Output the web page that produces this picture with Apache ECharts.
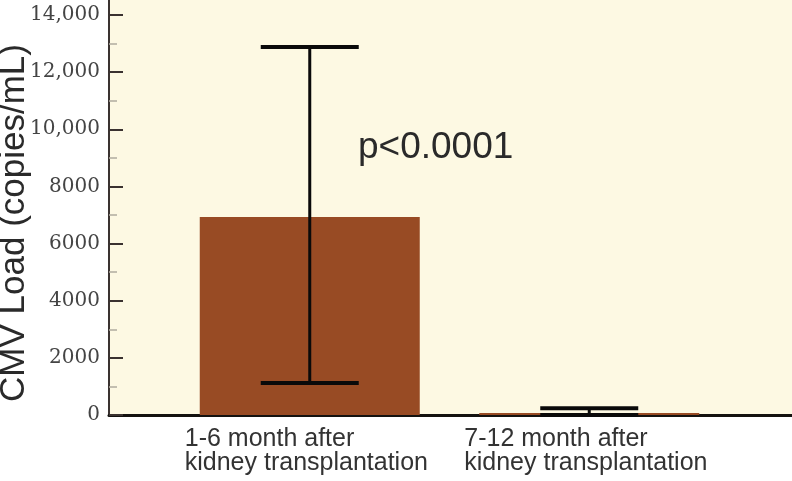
<!DOCTYPE html>
<html>
<head>
<meta charset="utf-8">
<script src="https://cdn.jsdelivr.net/npm/echarts@6/dist/echarts.min.js"></script>
<style>
html,body{margin:0;padding:0;background:#ffffff;}
#chart{width:792px;height:481px;}
</style>
</head>
<body>
<div id="chart"></div>
<script>
// Data
var categories = ['1-6 month after\nkidney transplantation', '7-12 month after\nkidney transplantation'];
var meanValues = [6930, 70];
var errLow = [1120, 0];
var errHigh = [12880, 240];
var yTicks = [0, 2000, 4000, 6000, 8000, 10000, 12000, 14000];
var yTickLabels = ['0', '2000', '4000', '6000', '8000', '10,000', '12,000', '14,000'];
var pLabel = 'p<0.0001';
var yTitle = 'CMV Load (copies/mL)';

var errData = categories.map(function (c, i) { return [i, errLow[i], errHigh[i]]; });

var chart = echarts.init(document.getElementById('chart'), null, { renderer: 'canvas' });

var option = {
  animation: false,
  backgroundColor: '#ffffff',
  title: {
    text: pLabel,
    left: 353,
    top: 124,
    textStyle: { fontFamily: 'Liberation Sans, Arial, sans-serif', fontSize: 37, fontWeight: 'normal', color: '#2a2a2a' }
  },
  grid: [
    { left: 109, right: 0, top: 0, bottom: 66, show: true, backgroundColor: '#fdf9e3', borderWidth: 0, outerBoundsMode: 'none', containLabel: false },
    { left: 170, right: 63, top: 15, bottom: 66, outerBoundsMode: 'none', containLabel: false }
  ],
  xAxis: [
    {
      gridIndex: 0, type: 'value', min: 0, max: 1, position: 'bottom',
      axisLine: { show: true, lineStyle: { color: '#141210', width: 3 } },
      axisTick: { show: false }, axisLabel: { show: false }, splitLine: { show: false }
    },
    {
      gridIndex: 1, type: 'category', data: categories, position: 'bottom',
      axisLine: { show: false }, axisTick: { show: false }, splitLine: { show: false },
      axisLabel: {
        margin: 12,
        interval: 0,
        formatter: function (v) {
          return v.split('\n').map(function (s) { return '{a|' + s + '}'; }).join('\n');
        },
        rich: {
          a: { fontFamily: 'Liberation Sans, Arial, sans-serif', fontSize: 25, color: '#333333', width: 250, align: 'left', lineHeight: 24 }
        }
      }
    }
  ],
  yAxis: [
    {
      gridIndex: 0, type: 'value', min: 0, max: 1,
      axisLine: { show: true, lineStyle: { color: '#3a3230', width: 2 } },
      axisTick: { show: false }, axisLabel: { show: false }, splitLine: { show: false }
    },
    {
      gridIndex: 1, type: 'value', min: 0, max: 14000, interval: 2000, offset: 61,
      axisLine: { show: false },
      axisTick: { show: true, inside: true, length: 14, lineStyle: { color: '#3a3230', width: 2 } },
      minorTick: { show: true, splitNumber: 2, length: 8, lineStyle: { color: '#b0aca0', width: 1.5 } },
      splitLine: { show: false },
      axisLabel: {
        margin: 9,
        fontFamily: 'DejaVu Serif, serif', fontSize: 20, color: '#444444',
        formatter: function (v) { var i = yTicks.indexOf(v); return i >= 0 ? yTickLabels[i] : ''; }
      },
      name: yTitle, nameLocation: 'middle', nameGap: 77, nameMoveOverlap: false,
      nameTextStyle: { fontFamily: 'Liberation Sans, Arial, sans-serif', fontSize: 35, color: '#2a2a2a', padding: [0, 16, 0, 0] }
    }
  ],
  series: [
    {
      type: 'bar', xAxisIndex: 1, yAxisIndex: 1, data: meanValues, barWidth: 220,
      itemStyle: { color: '#984b24' }, z: 2
    },
    {
      type: 'custom', xAxisIndex: 1, yAxisIndex: 1, data: errData, z: 3,
      renderItem: function (params, api) {
        var x = api.value(0);
        var lo = api.coord([x, api.value(1)]);
        var hi = api.coord([x, api.value(2)]);
        var half = 49;
        var stroke = { stroke: '#0a0a0a', lineWidth: 3 };
        var capStroke = { stroke: '#0a0a0a', lineWidth: 4 };
        return {
          type: 'group',
          children: [
            { type: 'line', shape: { x1: hi[0], y1: hi[1], x2: lo[0], y2: lo[1] }, style: stroke },
            { type: 'line', shape: { x1: hi[0] - half, y1: hi[1], x2: hi[0] + half, y2: hi[1] }, style: capStroke },
            { type: 'line', shape: { x1: lo[0] - half, y1: lo[1], x2: lo[0] + half, y2: lo[1] }, style: capStroke }
          ]
        };
      }
    }
  ]
};
chart.setOption(option);
</script>
</body>
</html>
